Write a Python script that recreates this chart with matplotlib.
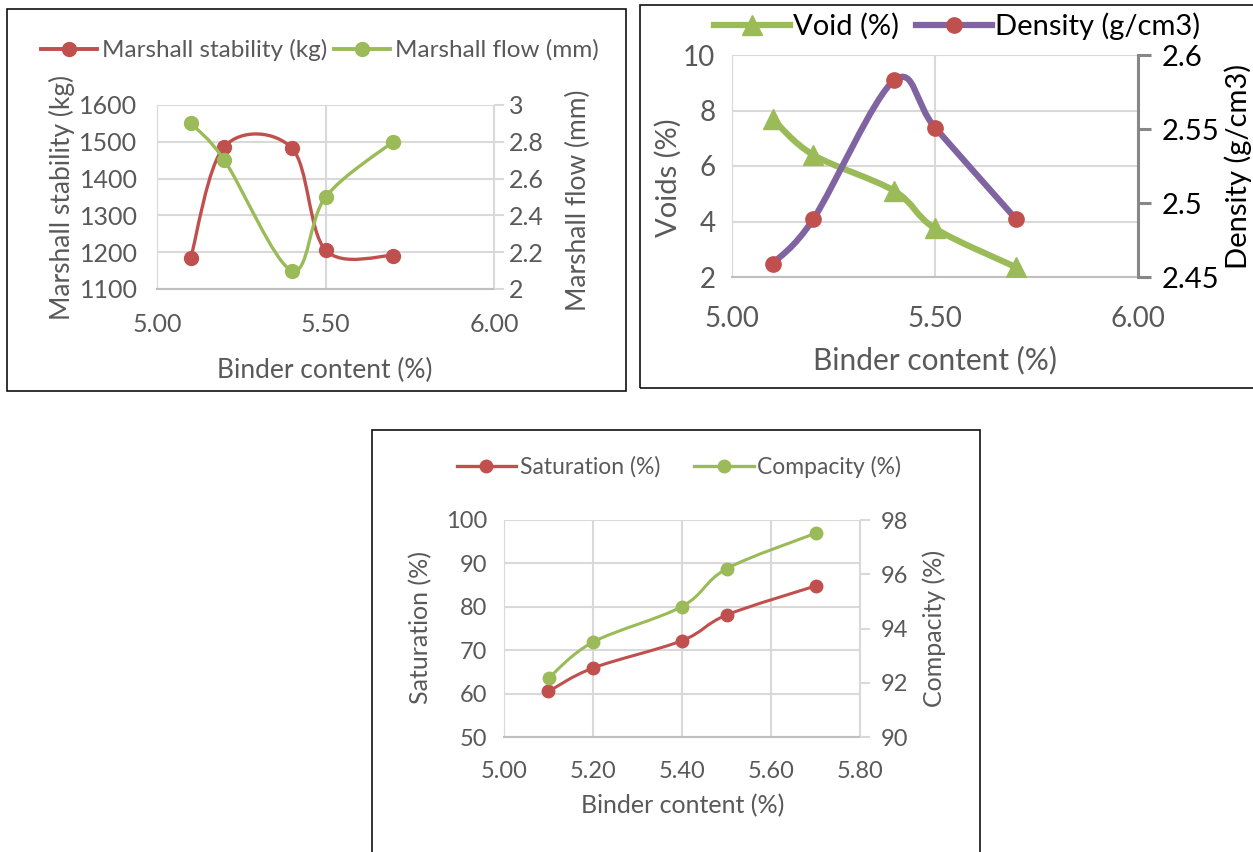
import numpy as np
import matplotlib
matplotlib.use("Agg")
import matplotlib.pyplot as plt
from matplotlib.path import Path
from matplotlib.patches import PathPatch, Rectangle
from matplotlib.lines import Line2D

plt.rcParams["font.family"] = ["Lato", "DejaVu Sans"]

# ---- data ----
binder = [5.1, 5.2, 5.4, 5.5, 5.7]

stability = [1184, 1487, 1483, 1206, 1191]
flow = [2.9, 2.7, 2.1, 2.5, 2.8]

voids = [7.7, 6.4, 5.1, 3.75, 2.35]
density = [2.459, 2.489, 2.583, 2.551, 2.489]

saturation = [60.5, 65.9, 72.2, 78.1, 84.8]
compacity = [92.17, 93.5, 94.81, 96.2, 97.51]

RED = "#C0504D"
GREEN = "#9BBB59"
PURPLE = "#8064A2"
GRID = "#D9D9D9"
TXT = "#595959"

W, H = 1253, 852


def fx(x):
    return x / W


def fy(y):
    return 1 - y / H


def axes_rect(x0, y0, x1, y1):
    return [fx(x0), fy(y1), fx(x1) - fx(x0), fy(y0) - fy(y1)]


def smooth_line(ax, xs, ys, color, lw):
    # excel-like smoothed line: cubic bezier through the points
    p = np.column_stack([xs, ys]).astype(float)
    n = len(p)
    verts = [p[0]]
    codes = [Path.MOVETO]
    for i in range(n - 1):
        pm = p[i - 1] if i > 0 else p[i]
        pn = p[i + 2] if i + 2 < n else p[i + 1]
        c1 = p[i] + (p[i + 1] - pm) / 6
        c2 = p[i + 1] - (pn - p[i]) / 6
        verts += [c1, c2, p[i + 1]]
        codes += [Path.CURVE4] * 3
    ax.add_patch(PathPatch(Path(verts, codes), fill=False, edgecolor=color,
                           lw=lw, capstyle="round", joinstyle="round", zorder=3))


def style_axes(ax, ax2, spine_color=GRID):
    ax.spines["top"].set_visible(False)
    ax2.spines["top"].set_visible(False)
    ax.spines["left"].set_color(GRID)
    ax.spines["bottom"].set_color("#BFBFBF")
    ax.spines["bottom"].set_linewidth(1.5)
    ax2.spines["left"].set_visible(False)
    ax2.spines["bottom"].set_visible(False)
    ax.spines["right"].set_visible(False)
    ax2.spines["right"].set_color(spine_color)
    ax.grid(True, color=GRID, lw=1.5)
    ax.set_axisbelow(True)
    ax.tick_params(axis="both", length=0, colors=TXT)
    ax2.tick_params(axis="y", length=7, width=1.5, color=spine_color, direction="out")


fig = plt.figure(figsize=(W / 100, H / 100), dpi=100)

# panel borders
for (x0, y0, x1, y1) in [(6.5, 9.5, 625.7, 391), (640, 5, 1260, 388), (372, 430, 980, 870)]:
    fig.add_artist(Rectangle((fx(x0), fy(y1)), fx(x1) - fx(x0), fy(y0) - fy(y1),
                             transform=fig.transFigure, fill=False, ec="#111111", lw=1.2))

# ---- panel 1: Marshall stability / flow ----
ax1 = fig.add_axes(axes_rect(157, 105, 494, 289))
ax1b = ax1.twinx()
ax1.set_xlim(5.0, 6.0)
ax1.set_ylim(1100, 1600)
ax1b.set_ylim(2, 3)
ax1.set_xticks([5.0, 5.5, 6.0])
ax1.set_xticklabels(["5.00", "5.50", "6.00"])
ax1.set_yticks(np.arange(1100, 1601, 100))
ax1b.set_yticks([2, 2.2, 2.4, 2.6, 2.8, 3])
ax1b.set_yticklabels(["2", "2.2", "2.4", "2.6", "2.8", "3"])
style_axes(ax1, ax1b)
ax1.tick_params(labelsize=18, pad=14)
ax1b.tick_params(labelsize=18, colors=TXT, labelcolor=TXT, color=GRID)
ax1.tick_params(axis="x", pad=17)
smooth_line(ax1, binder, stability, RED, 2.4)
smooth_line(ax1b, binder, flow, GREEN, 2.4)
ax1.plot(binder, stability, "o", color=RED, ms=10, zorder=4)
ax1b.plot(binder, flow, "o", color=GREEN, ms=10, zorder=4)
h1 = [Line2D([], [], color=RED, lw=2.8, marker="o", ms=10),
      Line2D([], [], color=GREEN, lw=2.8, marker="o", ms=10)]
fig.legend(h1, ["Marshall stability (kg)", "Marshall flow (mm)"], loc="center",
           bbox_to_anchor=(fx(320), fy(50)), ncol=2, frameon=False, fontsize=17.5,
           handlelength=2.3, columnspacing=0.3, handletextpad=0.2, labelcolor=TXT)
fig.text(fx(62), fy(197), "Marshall stability (kg)", rotation=90, ha="center",
         va="center", fontsize=19, color=TXT)
fig.text(fx(578), fy(200), "Marshall flow (mm)", rotation=90, ha="center",
         va="center", fontsize=19, color=TXT)
fig.text(fx(325), fy(370), "Binder content (%)", ha="center", va="center",
         fontsize=19, color=TXT)

# ---- panel 2: voids / density ----
ax2 = fig.add_axes(axes_rect(732, 55, 1138, 277))
ax2b = ax2.twinx()
ax2.set_xlim(5.0, 6.0)
ax2.set_ylim(2, 10)
ax2b.set_ylim(2.45, 2.6)
ax2.set_xticks([5.0, 5.5, 6.0])
ax2.set_xticklabels(["5.00", "5.50", "6.00"])
ax2.set_yticks([2, 4, 6, 8, 10])
ax2b.set_yticks([2.45, 2.5, 2.55, 2.6])
ax2b.set_yticklabels(["2.45", "2.5", "2.55", "2.6"])
style_axes(ax2, ax2b, spine_color="#878787")
ax2b.spines["right"].set_linewidth(2.2)
ax2.tick_params(labelsize=20, pad=12)
ax2.tick_params(axis="x", pad=21)
ax2b.tick_params(labelsize=21, labelcolor="black", length=9, width=2.2, pad=8)
smooth_line(ax2, binder, voids, GREEN, 4.5)
smooth_line(ax2b, binder, density, PURPLE, 4.5)
ax2.plot(binder, voids, "^", color=GREEN, ms=14, zorder=4)
ax2b.plot(binder, density, "o", color=RED, ms=11, zorder=4)
h2 = [Line2D([], [], color=GREEN, lw=4.5, marker="^", ms=14),
      Line2D([], [], color=PURPLE, lw=4.5, marker="o", ms=11, mfc=RED, mec=RED)]
fig.legend(h2, ["Void (%)", "Density (g/cm3)"], loc="center",
           bbox_to_anchor=(fx(957), fy(26)), ncol=2, frameon=False, fontsize=21,
           handlelength=2.6, columnspacing=0.6, handletextpad=0.1)
fig.text(fx(668), fy(178), "Voids (%)", rotation=90, ha="center", va="center",
         fontsize=21, color=TXT)
fig.text(fx(1238), fy(166), "Density (g/cm3)", rotation=90, ha="center",
         va="center", fontsize=21, color="black")
fig.text(fx(935), fy(360), "Binder content (%)", ha="center", va="center",
         fontsize=21.5, color=TXT)

# ---- panel 3: saturation / compacity ----
ax3 = fig.add_axes(axes_rect(504, 520, 860, 737))
ax3b = ax3.twinx()
ax3.set_xlim(5.0, 5.8)
ax3.set_ylim(50, 100)
ax3b.set_ylim(90, 98)
ax3.set_xticks([5.0, 5.2, 5.4, 5.6, 5.8])
ax3.set_xticklabels(["5.00", "5.20", "5.40", "5.60", "5.80"])
ax3.set_yticks(np.arange(50, 101, 10))
ax3b.set_yticks([90, 92, 94, 96, 98])
style_axes(ax3, ax3b)
ax3.tick_params(labelsize=17, pad=12)
ax3.tick_params(axis="x", pad=17)
ax3b.tick_params(labelsize=17, colors=TXT, labelcolor=TXT, color=GRID, pad=8)
smooth_line(ax3, binder, saturation, RED, 2.2)
smooth_line(ax3b, binder, compacity, GREEN, 2.2)
ax3.plot(binder, saturation, "o", color=RED, ms=9, zorder=4)
ax3b.plot(binder, compacity, "o", color=GREEN, ms=9, zorder=4)
h3 = [Line2D([], [], color=RED, lw=2.4, marker="o", ms=9),
      Line2D([], [], color=GREEN, lw=2.4, marker="o", ms=9)]
fig.legend(h3, ["Saturation (%)", "Compacity (%)"], loc="center",
           bbox_to_anchor=(fx(679), fy(467)), ncol=2, frameon=False, fontsize=16.5,
           handlelength=2.6, columnspacing=1.5, handletextpad=0.15, labelcolor=TXT)
fig.text(fx(421), fy(628), "Saturation (%)", rotation=90, ha="center",
         va="center", fontsize=18, color=TXT)
fig.text(fx(934), fy(628), "Compacity (%)", rotation=90, ha="center",
         va="center", fontsize=18, color=TXT)
fig.text(fx(683), fy(806), "Binder content (%)", ha="center", va="center",
         fontsize=18, color=TXT)

fig.savefig("out.png", dpi=100)
